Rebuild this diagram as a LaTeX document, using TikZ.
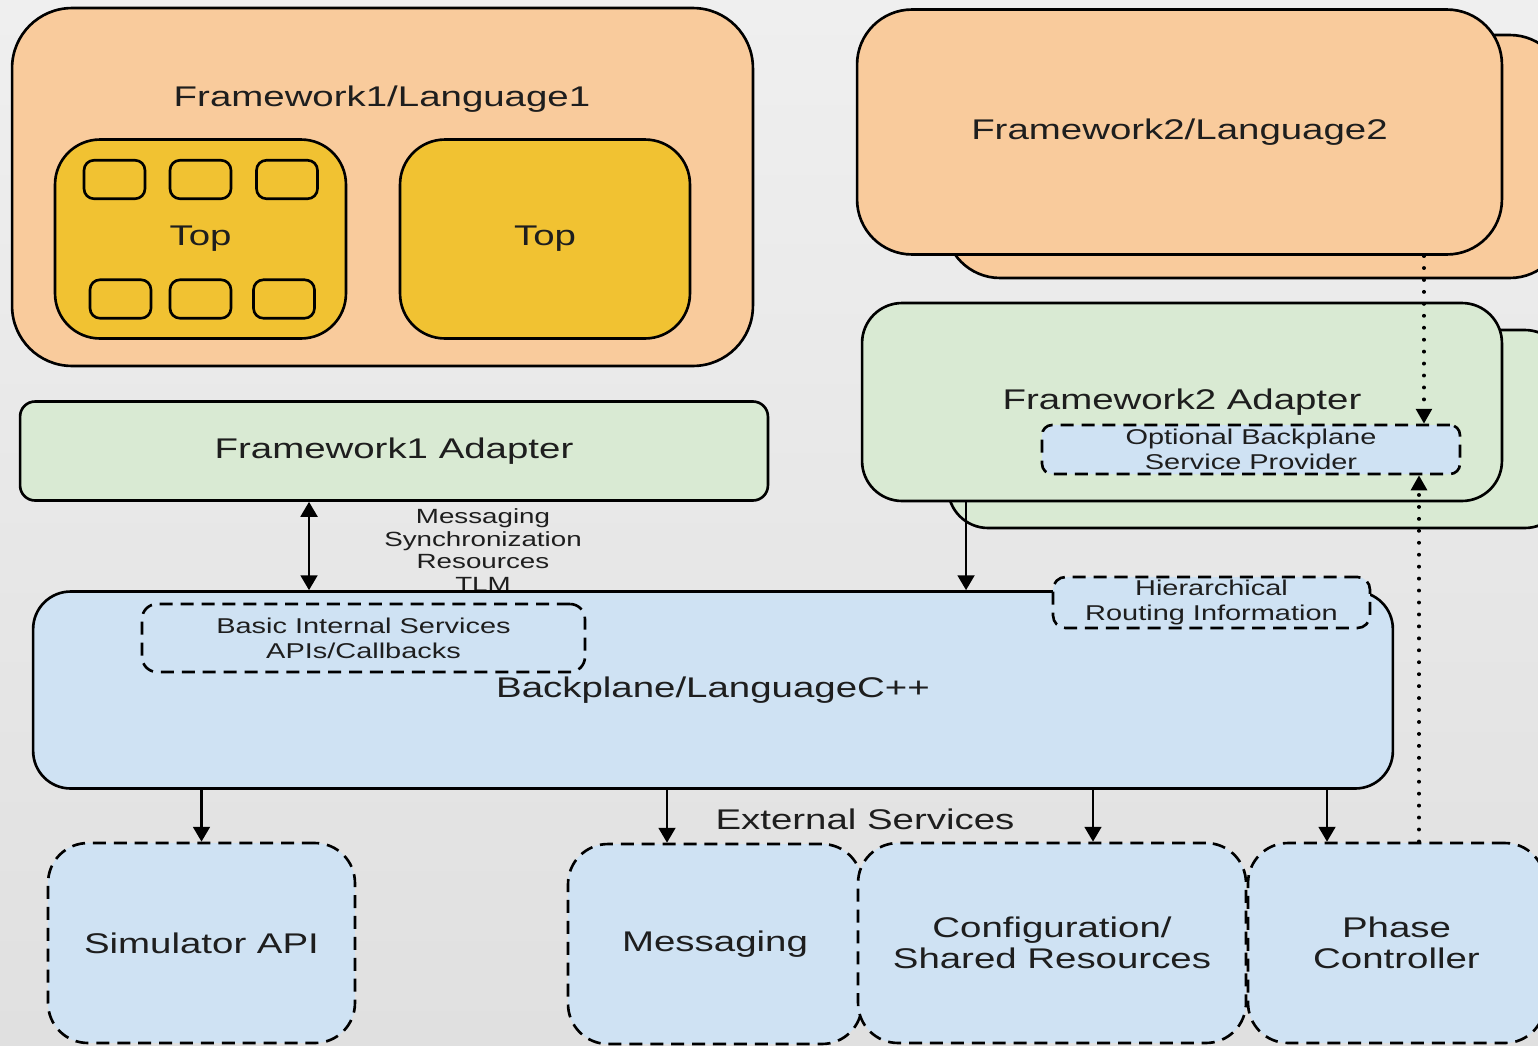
\documentclass[tikz,border=0pt]{standalone}
\usepackage{fontspec}
\setmainfont{Liberation Sans}[FakeStretch=1.35]
\usetikzlibrary{arrows.meta}
\definecolor{peach}{HTML}{F9CB9C}
\definecolor{gold}{HTML}{F1C232}
\definecolor{palegreen}{HTML}{D9EAD3}
\definecolor{paleblue}{HTML}{CFE2F3}
\definecolor{bgtop}{HTML}{EFEFEF}
\definecolor{bgbot}{HTML}{E0E0E0}
\definecolor{ink}{HTML}{1E1E1E}

\begin{document}
\begin{tikzpicture}
  [x=0.02cm,y=-0.02cm,
   every node/.style={inner sep=0pt,text=ink,font=\fontsize{16.2}{19}\selectfont},
   box/.style={draw=black,line width=1.5pt},
   dbox/.style={draw=black,line width=1.5pt,dash pattern=on 7.4pt off 4.5pt,fill=paleblue},
   cell/.style={box,fill=gold,rounded corners=0.2cm,minimum width=1.22cm,minimum height=0.77cm},
   small/.style={align=center,font=\fontsize{12.2}{14.2}\selectfont},
   svc/.style={dbox,rounded corners=0.8cm,minimum height=4cm,align=center,font=\fontsize{16.2}{17.6}\selectfont},
   arr/.style={-{Triangle[length=8.5pt,width=9.5pt]},line width=1.6pt},
   arr2/.style={{Triangle[length=8.5pt,width=9.5pt]}-{Triangle[length=8.5pt,width=9.5pt]},line width=1.6pt},
   dotarr/.style={-{Triangle[length=8.5pt,width=9pt]},line width=1.9pt,dash pattern=on 0.3pt off 6.5pt,line cap=round}]
  \useasboundingbox (0,0) rectangle (1538,1045);
  \clip (0,0) rectangle (1538,1045);
  \fill[top color=bgtop,bottom color=bgbot] (0,0) rectangle (1538,1045);

  \node[box,fill=peach,rounded corners=1.2cm,minimum width=14.82cm,minimum height=7.16cm] (f1lang) at (382.5,187) {};
  \node (f1title) at (382,99) {Framework1/Language1};
  \node[box,fill=gold,rounded corners=0.9cm,minimum width=5.82cm,minimum height=3.98cm] (top1) at (200.5,239) {Top};
  \node[box,fill=gold,rounded corners=0.9cm,minimum width=5.8cm,minimum height=3.98cm] (top2) at (545,239) {Top};
  \foreach \x [count=\i] in {114.5,200.5,287}
    \node[cell] (ca\i) at (\x,179.5) {};
  \foreach \x [count=\i] in {120.5,200.5,284}
    \node[cell] (cb\i) at (\x,299) {};

  \node[box,fill=peach,rounded corners=1.1cm,minimum width=12.4cm,minimum height=4.86cm] (f2back) at (1255,156.5) {};
  \node[box,fill=peach,rounded corners=1.1cm,minimum width=12.9cm,minimum height=4.9cm] (f2lang) at (1179.5,132) {Framework2/Language2};

  \node[box,fill=palegreen,rounded corners=0.8cm,minimum width=12.34cm,minimum height=3.96cm] (f2adback) at (1256.5,429) {};
  \node[box,fill=palegreen,rounded corners=0.8cm,minimum width=12.8cm,minimum height=3.96cm] (f2adapt) at (1182,402) {Framework2 Adapter};
  \node[dbox,small,rounded corners=0.2cm,minimum width=8.36cm,minimum height=0.98cm] (optional) at (1251,449.5) {Optional Backplane\\Service Provider};

  \node[box,fill=palegreen,rounded corners=0.3cm,minimum width=14.96cm,minimum height=1.98cm] (f1adapt) at (394,451) {Framework1 Adapter};
  \node[align=center,font=\fontsize{11.7}{12.9}\selectfont] (msglabel) at (483,550) {Messaging\\Synchronization\\Resources\\TLM};

  \node[box,fill=paleblue,rounded corners=0.75cm,minimum width=27.2cm,minimum height=3.94cm] (backplane) at (713,690) {Backplane/LanguageC++};
  \node[dbox,small,rounded corners=0.3cm,minimum width=8.86cm,minimum height=1.36cm] (basic) at (363.5,638) {Basic Internal Services\\APIs/Callbacks};
  \node[dbox,small,rounded corners=0.25cm,minimum width=6.34cm,minimum height=1.02cm] (hier) at (1211.5,602.5) {Hierarchical\\Routing Information};

  \node (extlabel) at (865,819) {External Services};
  \node[svc,minimum width=6.14cm] (simapi) at (201.5,943) {Simulator API};
  \node[svc,minimum width=5.88cm] (messaging) at (715,944) {Messaging};
  \node[svc,minimum width=7.76cm] (config) at (1052,943) {Configuration/\\Shared Resources};
  \node[svc,minimum width=5.94cm] (phase) at (1396.5,943) {Phase\\Controller};

  \coordinate (a1) at ([xshift=-1.7cm]f1adapt.south);
  \coordinate (a2) at ([xshift=-4.32cm]f2adapt.south);
  \coordinate (a3) at ([xshift=-0.96cm]messaging.north);
  \coordinate (a4) at ([xshift=0.82cm]config.north);
  \coordinate (a5) at ([xshift=-1.39cm]phase.north);
  \coordinate (d1) at ([xshift=4.89cm]f2lang.south);
  \coordinate (d2) at ([xshift=0.45cm]phase.north);

  \draw[arr2] (a1) -- (backplane.north -| a1);
  \draw[arr] (a2) -- (backplane.north -| a2);
  \draw[arr] (backplane.south -| simapi.north) -- (simapi.north);
  \draw[arr] (backplane.south -| a3) -- (a3);
  \draw[arr] (backplane.south -| a4) -- (a4);
  \draw[arr] (backplane.south -| a5) -- (a5);
  \draw[dotarr] (d1) -- (optional.north -| d1);
  \draw[dotarr] (d2) -- (optional.south -| d2);
\end{tikzpicture}
\end{document}
